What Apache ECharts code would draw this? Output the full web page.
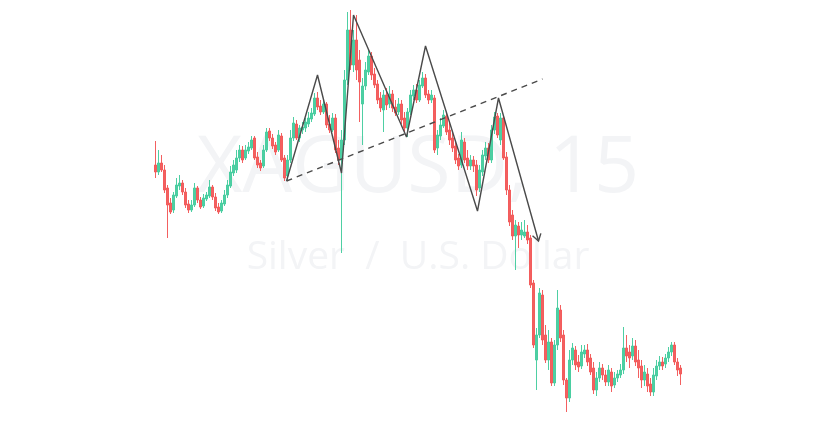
<!DOCTYPE html>
<html><head><meta charset="utf-8">
<script src="https://cdn.jsdelivr.net/npm/echarts@6/dist/echarts.min.js"></script>
<style>html,body{margin:0;padding:0;background:#fff}#c{width:836px;height:424px}</style>
</head><body><div id="c"></div>
<script>
// XAGUSD 15-minute candles (price levels)
const opens = [28.35,28.28,28.37,28.30,28.12,27.97,27.90,28.04,28.14,28.17,28.08,27.96,27.90,27.95,28.12,28.00,27.94,28.01,28.04,28.13,28.03,27.93,27.89,27.96,28.05,28.14,28.27,28.30,28.42,28.50,
28.42,28.49,28.52,28.62,28.43,28.37,28.34,28.50,28.69,28.62,28.55,28.50,28.64,28.42,28.24,28.40,28.62,28.76,28.62,28.70,28.72,28.76,28.81,28.86,29.02,28.94,28.88,28.96,28.76,28.70,
28.82,28.52,28.40,28.60,29.20,29.70,29.35,29.60,29.40,28.96,29.14,29.28,29.44,29.26,29.16,29.02,28.90,29.05,28.96,29.06,28.93,28.88,28.96,28.82,28.72,28.88,29.04,29.10,29.00,29.14,
29.22,29.06,29.00,29.02,28.52,28.64,28.74,28.84,28.70,28.62,28.54,28.42,28.35,28.58,28.42,28.34,28.40,28.35,28.12,28.28,28.44,28.52,28.40,28.70,28.84,28.60,28.82,28.43,28.10,27.85,
27.64,27.74,27.65,27.64,27.68,27.62,27.17,26.40,26.65,27.05,26.65,26.40,26.58,26.17,26.55,26.90,26.65,26.20,26.02,26.40,26.50,26.38,26.34,26.46,26.50,26.42,26.32,26.10,26.22,26.32,
26.25,26.18,26.28,26.15,26.22,26.25,26.30,26.52,26.48,26.44,26.54,26.40,26.34,26.20,26.26,26.16,26.08,26.24,26.34,26.38,26.36,26.42,26.48,26.55,26.38,26.32];
const closes = [28.28,28.37,28.30,28.10,27.95,27.88,28.05,28.15,28.17,28.08,27.95,27.90,27.95,28.12,28.00,27.93,28.02,28.05,28.13,28.03,27.92,27.88,27.97,28.05,28.15,28.28,28.35,28.42,28.50,28.40,
28.50,28.53,28.60,28.42,28.35,28.32,28.50,28.68,28.62,28.54,28.48,28.65,28.40,28.22,28.40,28.62,28.77,28.62,28.72,28.73,28.78,28.82,28.87,29.02,28.93,28.88,28.96,28.75,28.70,28.82,
28.50,28.40,28.60,29.20,29.70,29.35,29.60,29.30,29.18,29.14,29.30,29.44,29.25,29.15,29.00,28.92,29.05,28.95,29.06,28.92,28.87,28.96,28.80,28.72,28.88,29.05,29.10,29.00,29.15,29.22,
29.05,29.00,29.05,28.50,28.65,28.75,28.85,28.68,28.60,28.52,28.40,28.34,28.60,28.40,28.34,28.40,28.34,28.10,28.30,28.45,28.52,28.40,28.70,28.83,28.65,28.82,28.42,28.10,27.78,27.64,
27.75,27.65,27.70,27.68,27.60,27.15,26.55,26.65,27.07,26.60,26.40,26.58,26.17,26.55,26.92,26.62,26.20,26.02,26.40,26.52,26.35,26.33,26.48,26.50,26.38,26.28,26.10,26.22,26.32,26.25,
26.18,26.30,26.14,26.22,26.26,26.30,26.52,26.44,26.42,26.54,26.38,26.32,26.20,26.28,26.14,26.08,26.25,26.34,26.38,26.34,26.42,26.48,26.55,26.38,26.30,26.26];
const lows = [28.22,28.25,28.28,28.07,27.62,27.86,27.87,28.02,28.10,28.05,27.92,27.87,27.88,27.93,27.97,27.91,27.92,27.99,28.02,28.00,27.89,27.86,27.87,27.94,28.02,28.12,28.24,28.27,28.38,28.37,
28.40,28.46,28.50,28.40,28.32,28.29,28.32,28.48,28.59,28.51,28.45,28.48,28.38,28.19,28.20,28.37,28.59,28.60,28.58,28.66,28.68,28.73,28.78,28.84,28.90,28.85,28.86,28.72,28.67,28.68,
28.47,28.35,27.47,28.55,29.15,29.30,29.28,29.20,28.78,28.55,29.10,29.25,29.20,29.12,28.96,28.88,28.68,28.90,28.92,28.88,28.84,28.85,28.76,28.68,28.63,28.85,29.00,28.97,28.98,29.12,
29.02,28.96,28.97,28.47,28.45,28.60,28.72,28.65,28.55,28.48,28.36,28.30,28.32,28.37,28.30,28.30,28.28,28.04,28.08,28.24,28.40,28.37,28.37,28.66,28.62,28.55,28.40,28.05,27.74,27.60,
27.30,27.52,27.60,27.62,27.56,27.12,26.52,26.10,26.62,26.55,26.37,26.30,26.14,26.14,26.50,26.58,26.15,25.88,25.98,26.35,26.30,26.28,26.31,26.42,26.34,26.25,26.06,26.04,26.18,26.20,
26.14,26.14,26.08,26.12,26.18,26.22,26.26,26.38,26.32,26.40,26.34,26.22,26.12,26.14,26.08,26.04,26.04,26.20,26.30,26.30,26.32,26.38,26.44,26.35,26.24,26.15];
const highs = [28.59,28.50,28.45,28.35,28.15,28.02,28.08,28.22,28.25,28.20,28.12,28.00,28.00,28.17,28.14,28.03,28.06,28.08,28.20,28.15,28.07,27.97,28.00,28.10,28.20,28.34,28.40,28.50,28.55,28.54,
28.55,28.58,28.64,28.64,28.48,28.40,28.55,28.72,28.72,28.66,28.58,28.70,28.67,28.45,28.45,28.70,28.83,28.80,28.75,28.78,28.82,28.88,28.92,29.07,29.08,29.00,29.00,28.98,28.85,28.87,
28.86,28.60,28.70,29.30,29.88,29.90,29.70,29.85,29.50,29.22,29.38,29.50,29.48,29.32,29.20,29.08,29.10,29.12,29.14,29.10,29.00,29.02,29.00,28.88,28.92,29.10,29.15,29.16,29.20,29.28,
29.26,29.10,29.10,29.05,28.70,28.82,28.90,28.88,28.78,28.68,28.60,28.46,28.68,28.62,28.50,28.45,28.44,28.40,28.35,28.50,28.58,28.57,28.75,28.88,28.87,28.87,28.85,28.48,28.15,27.90,
27.80,27.78,27.78,27.80,27.75,27.65,27.20,26.72,27.12,27.10,26.75,26.70,26.62,26.60,27.10,26.95,26.70,26.22,26.50,26.57,26.54,26.45,26.55,26.55,26.56,26.46,26.38,26.28,26.38,26.36,
26.30,26.35,26.32,26.28,26.30,26.36,26.73,26.65,26.55,26.62,26.60,26.50,26.40,26.35,26.32,26.22,26.32,26.40,26.44,26.43,26.46,26.53,26.58,26.58,26.42,26.35];

// Drawn pattern: zig-zag path (bar position, price) and dashed neckline
const zigzagBars = [43.67, 54, 62, 66, 83.67, 90, 107.33, 114.33, 127.67];
const zigzagPrices = [28.19, 29.25, 28.27, 29.85, 28.63, 29.54, 27.89, 29.02, 27.59];
const trendBars = [43.67, 129];
const trendPrices = [28.19, 29.21];

const titleText = 'XAGUSD, 15';
const subtitleText = 'Silver  /  U.S. Dollar';

const N = opens.length;
const categories = opens.map((_, i) => String(i));
const candleData = opens.map((o, i) => [o, closes[i], lows[i], highs[i]]);
const zigzag = zigzagBars.map((x, i) => [x, zigzagPrices[i]]);
const trend = trendBars.map((x, i) => [x, trendPrices[i]]);

const chart = echarts.init(document.getElementById('c'), null, {renderer: 'canvas'});
const UP = '#45cc9e', DOWN = '#f25757';
chart.setOption({
  animation: false,
  backgroundColor: '#ffffff',
  graphic: [
    {type: 'text', z: -10, left: 'center', top: 130, style: {text: titleText, font: '400 79px "Open Sans"', fill: '#f3f4f6'}},
    {type: 'text', z: -10, left: 'center', top: 238, style: {text: subtitleText, font: '400 39px "Open Sans"', fill: '#f3f4f6'}}
  ],
  grid: {left: 154, width: 528, top: 0, height: 424},
  xAxis: [
    {type: 'category', data: categories, show: false, boundaryGap: true},
    {type: 'value', min: -0.5, max: N - 0.5, show: false}
  ],
  yAxis: {type: 'value', min: 25.76, max: 30, show: false, splitLine: {show: false}},
  series: [
    {type: 'candlestick', data: candleData, barWidth: 2.4, z: 2,
     itemStyle: {color: UP, color0: DOWN, borderColor: UP, borderColor0: DOWN, borderWidth: 1, opacity: 0.95}},
    {type: 'line', xAxisIndex: 1, data: zigzag, symbol: 'none', z: 5,
     lineStyle: {color: '#4a4a4a', width: 1.4}},
    {type: 'line', xAxisIndex: 1, data: trend, symbol: 'none', z: 5,
     lineStyle: {color: '#4a4a4a', width: 1.4, type: [6, 5]}},
    {type: 'custom', xAxisIndex: 1, z: 6, data: [zigzag[zigzag.length - 1]],
     renderItem: function (params, api) {
       const a = api.coord(zigzag[zigzag.length - 2]);
       const b = api.coord([api.value(0), api.value(1)]);
       const ang = Math.atan2(b[1] - a[1], b[0] - a[0]);
       const L = 8, s = Math.PI / 5.5;
       const p1 = [b[0] - L * Math.cos(ang - s), b[1] - L * Math.sin(ang - s)];
       const p2 = [b[0] - L * Math.cos(ang + s), b[1] - L * Math.sin(ang + s)];
       return {type: 'polyline', shape: {points: [p1, b, p2]},
               style: {stroke: '#4a4a4a', lineWidth: 1.4, fill: null}};
     }}
  ]
});
</script></body></html>
